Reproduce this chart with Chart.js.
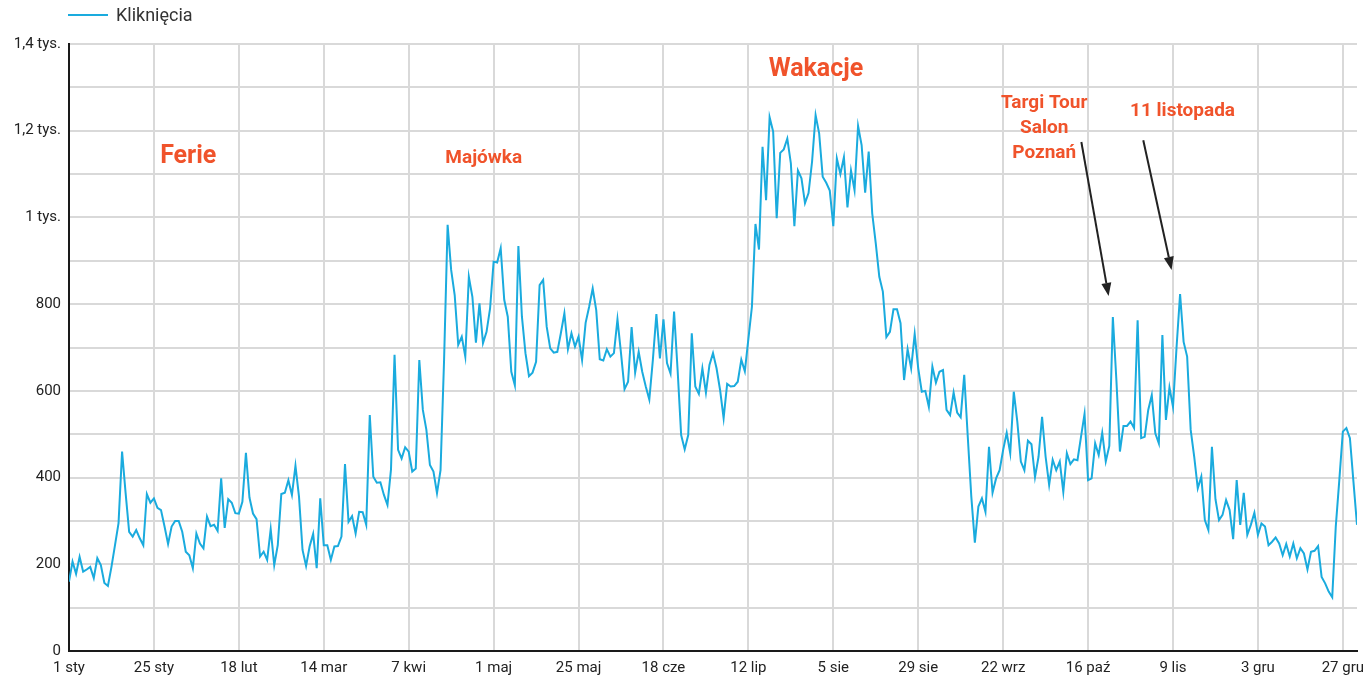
<!DOCTYPE html>
<html lang="pl">
<head>
<meta charset="utf-8">
<title>Kliknięcia</title>
<script src="https://cdn.jsdelivr.net/npm/chart.js@4.4.1/dist/chart.umd.min.js"></script>
<style>
  html, body { margin: 0; padding: 0; background: #fff; }
  .wrap { position: relative; width: 1367px; height: 680px; }
</style>
</head>
<body>
<div class="wrap"><canvas id="clicksChart"></canvas></div>
<script>
(function () {
  'use strict';

  // ── Data ──
  const X_LABELS = ['1 sty', '25 sty', '18 lut', '14 mar', '7 kwi', '1 maj', '25 maj', '18 cze',
    '12 lip', '5 sie', '29 sie', '22 wrz', '16 paź', '9 lis', '3 gru', '27 gru'];
  const Y_LABELS = ['0', '200', '400', '600', '800', '1 tys.', '1,2 tys.', '1,4 tys.'];
  const SERIES_NAME = 'Kliknięcia';

  // one value per day, 1 sty .. 31 gru
  const clicks = [
    160, 206, 178, 217, 183, 188, 194, 168, 214, 198,
    157, 150, 194, 244, 295, 460, 364, 275, 264, 279,
    260, 244, 362, 342, 352, 330, 325, 287, 247, 287,
    300, 300, 275, 229, 221, 191, 271, 248, 237, 310,
    288, 291, 277, 398, 284, 350, 342, 318, 317, 344,
    457, 354, 317, 304, 218, 229, 210, 281, 198, 244,
    362, 365, 394, 360, 427, 356, 233, 196, 241, 270,
    191, 352, 244, 244, 210, 241, 242, 264, 431, 298,
    311, 271, 321, 320, 291, 544, 402, 388, 389, 360,
    337, 419, 683, 464, 444, 470, 460, 414, 421, 671,
    556, 510, 429, 414, 364, 417, 671, 983, 879, 821,
    706, 725, 679, 863, 817, 711, 802, 710, 736, 790,
    898, 896, 929, 810, 771, 644, 613, 934, 771, 687,
    634, 642, 667, 844, 856, 748, 698, 688, 690, 733,
    779, 696, 733, 702, 725, 671, 757, 794, 836, 786,
    673, 670, 696, 679, 687, 765, 687, 604, 621, 747,
    642, 690, 644, 610, 580, 671, 777, 675, 765, 664,
    640, 783, 648, 498, 465, 498, 733, 610, 593, 652,
    596, 660, 687, 652, 602, 537, 616, 610, 611, 621,
    672, 645, 720, 794, 985, 926, 1163, 1040, 1231, 1198,
    998, 1149, 1157, 1182, 1125, 980, 1108, 1090, 1033, 1056,
    1129, 1236, 1194, 1094, 1080, 1062, 980, 1136, 1100, 1139,
    1023, 1108, 1063, 1211, 1167, 1057, 1152, 1009, 940, 863,
    829, 724, 736, 788, 788, 756, 625, 696, 652, 731,
    652, 598, 600, 563, 656, 619, 644, 648, 556, 544,
    596, 550, 539, 637, 494, 356, 250, 333, 352, 321,
    471, 365, 398, 417, 464, 503, 456, 598, 529, 437,
    417, 485, 477, 401, 448, 540, 448, 383, 441, 417,
    437, 367, 456, 431, 442, 440, 494, 547, 394, 398,
    479, 452, 503, 437, 473, 770, 625, 460, 519, 519,
    529, 514, 763, 491, 494, 556, 590, 502, 479, 729,
    533, 608, 563, 700, 823, 713, 679, 510, 448, 375,
    402, 302, 279, 471, 350, 302, 314, 348, 325, 258,
    394, 291, 365, 268, 291, 319, 268, 294, 287, 244,
    252, 262, 248, 221, 247, 218, 248, 214, 237, 225,
    188, 229, 231, 242, 171, 156, 137, 124, 287, 394,
    506, 514, 491, 390, 291
  ];

  // ── Styles ──
  const BLUE = '#1aabde';
  const ORANGE = '#f0532b';
  const INK = '#222';
  const GRID = '#d9d9d9';
  const FONT = 'Roboto, sans-serif';

  // annotations, placed in data units (day, clicks)
  const NOTES = [
    { lines: ['Ferie'], day: 33.7, value: 1139, size: 25 },
    { lines: ['Majówka'], day: 117.2, value: 1137, size: 19 },
    { lines: ['Wakacje'], day: 211.1, value: 1340, size: 25 },
    { lines: ['Targi Tour', 'Salon', 'Poznań'], day: 275.6, value: 1264, size: 19, lh: 25 },
    { lines: ['11 listopada'], day: 314.7, value: 1245, size: 19 }
  ];
  const ARROWS = [
    { from: [286.1, 1174], to: [293.8, 819] },
    { from: [303.6, 1178], to: [311.6, 879] }
  ];

  // ── Legend + notes plugin ──
  const notesPlugin = {
    id: 'notes',
    afterDraw(chart) {
      const { ctx, chartArea, scales: { x, y } } = chart;
      ctx.save();

      // legend
      ctx.strokeStyle = BLUE;
      ctx.lineWidth = 2;
      ctx.beginPath();
      ctx.moveTo(chartArea.left - 1, 15);
      ctx.lineTo(chartArea.left + 39, 15);
      ctx.stroke();
      ctx.fillStyle = '#333';
      ctx.font = '18px ' + FONT;
      ctx.textAlign = 'left';
      ctx.textBaseline = 'middle';
      ctx.fillText(SERIES_NAME, chartArea.left + 47, 16);

      // notes
      ctx.fillStyle = ORANGE;
      ctx.textAlign = 'center';
      NOTES.forEach(n => {
        ctx.font = `bold ${n.size}px ${FONT}`;
        const px = x.getPixelForValue(n.day);
        const py = y.getPixelForValue(n.value);
        n.lines.forEach((t, i) => ctx.fillText(t, px, py + i * (n.lh || 0)));
      });

      // arrows
      ctx.strokeStyle = INK;
      ctx.fillStyle = INK;
      ctx.lineWidth = 2;
      ARROWS.forEach(a => {
        const x1 = x.getPixelForValue(a.from[0]), y1 = y.getPixelForValue(a.from[1]);
        const x2 = x.getPixelForValue(a.to[0]), y2 = y.getPixelForValue(a.to[1]);
        const ang = Math.atan2(y2 - y1, x2 - x1);
        const head = 13, half = 5;
        const bx = x2 - head * Math.cos(ang), by = y2 - head * Math.sin(ang);
        ctx.beginPath();
        ctx.moveTo(x1, y1);
        ctx.lineTo(bx, by);
        ctx.stroke();
        ctx.beginPath();
        ctx.moveTo(x2, y2);
        ctx.lineTo(bx + half * Math.sin(ang), by - half * Math.cos(ang));
        ctx.lineTo(bx - half * Math.sin(ang), by + half * Math.cos(ang));
        ctx.closePath();
        ctx.fill();
      });

      ctx.restore();
    }
  };

  // ── Chart ──
  Chart.defaults.font.family = FONT;
  Chart.defaults.color = INK;

  new Chart(document.getElementById('clicksChart'), {
    type: 'line',
    data: {
      datasets: [{
        label: SERIES_NAME,
        data: clicks.map((v, i) => ({ x: i, y: v })),
        borderColor: BLUE,
        borderWidth: 2,
        pointRadius: 0,
        tension: 0,
        fill: false
      }]
    },
    options: {
      responsive: true,
      maintainAspectRatio: false,
      animation: false,
      layout: { padding: { top: 44, right: 10, bottom: 0, left: 0 } },
      plugins: {
        legend: { display: false },
        tooltip: { enabled: false }
      },
      scales: {
        x: {
          type: 'linear',
          min: 0,
          max: clicks.length - 1,
          afterFit: s => { s.height = 29; s.paddingLeft = 0; s.paddingRight = 0; },
          border: { display: true, color: '#1a1a1a', width: 2 },
          grid: { color: GRID, lineWidth: 2, drawTicks: false },
          ticks: {
            stepSize: 24,
            includeBounds: false,
            autoSkip: false,
            maxRotation: 0,
            padding: 8,
            font: { size: 15 },
            color: INK,
            callback: v => X_LABELS[v / 24] || ''
          }
        },
        y: {
          min: 0,
          max: 1400,
          afterFit: s => { s.width = 69; },
          border: { display: true, color: '#1a1a1a', width: 2 },
          grid: { color: GRID, lineWidth: 2, drawTicks: false },
          ticks: {
            stepSize: 100,
            padding: 8,
            font: { size: 15 },
            color: INK,
            callback: v => (v % 200 === 0 ? Y_LABELS[v / 200] : '')
          }
        }
      }
    },
    plugins: [notesPlugin]
  });
})();
</script>
</body>
</html>
